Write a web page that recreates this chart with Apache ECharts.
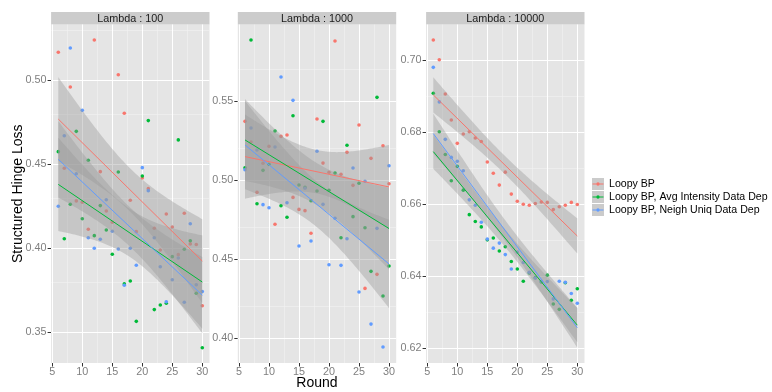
<!DOCTYPE html>
<html>
<head>
<meta charset="utf-8">
<script src="https://cdn.jsdelivr.net/npm/echarts@6/dist/echarts.min.js"></script>
<style>
  html, body { margin: 0; padding: 0; background: #fff; }
  #chart { width: 772px; height: 392px; }
</style>
</head>
<body>
<div id="chart"></div>
<script>
// Rounds shared by every facet and method
const rounds = [6, 7, 8, 9, 10, 11, 12, 13, 14, 15, 16, 17, 18, 19, 20, 21, 22, 23, 24, 25, 26, 27, 28, 29, 30];

// Facet labels and method names
const facetLabels = ['Lambda : 100', 'Lambda : 1000', 'Lambda : 10000'];
const methodNames = ['Loopy BP', 'Loopy BP, Avg Intensity Data Dep', 'Loopy BP, Neigh Uniq Data Dep'];
const methodColors = ['#F8766D', '#00BA38', '#619CFF'];

// Structured hinge loss, Lambda = 100
const loopy100 = [0.5167, 0.4476, 0.4960, 0.4282, 0.4274, 0.4113, 0.5240, 0.4456, 0.4222, 0.4155, 0.5033, 0.4804, 0.4286, 0.4099, 0.4418, 0.4355, 0.4119, 0.3990, 0.4204, 0.4127, 0.3962, 0.4208, 0.4026, 0.4022, 0.3658];
const avgInt100 = [0.4575, 0.4057, 0.4262, 0.4696, 0.4176, 0.4524, 0.4075, 0.4254, 0.4109, 0.3964, 0.4454, 0.3788, 0.3805, 0.3565, 0.4430, 0.4760, 0.3635, 0.3662, 0.3673, 0.3950, 0.4645, 0.3994, 0.4045, 0.3732, 0.3408];
const neighUniq100 = [0.4250, 0.4670, 0.5192, 0.4444, 0.4821, 0.4063, 0.4000, 0.4054, 0.4289, 0.4101, 0.3996, 0.3780, 0.4000, 0.3899, 0.4480, 0.4343, 0.4063, 0.3890, 0.3682, 0.3813, 0.3942, 0.3679, 0.4146, 0.3783, 0.3742];

// Structured hinge loss, Lambda = 1000
const loopy1000 = [0.5373, 0.5242, 0.4924, 0.5108, 0.5215, 0.4722, 0.5278, 0.5287, 0.4892, 0.4816, 0.4808, 0.4665, 0.5388, 0.5109, 0.5051, 0.5882, 0.5038, 0.5177, 0.4968, 0.5350, 0.4316, 0.5139, 0.4405, 0.5219, 0.4978];
const avgInt1000 = [0.5080, 0.5888, 0.4852, 0.5063, 0.5101, 0.5312, 0.4839, 0.4766, 0.5409, 0.4970, 0.4956, 0.4871, 0.4932, 0.5373, 0.4937, 0.5046, 0.4637, 0.5222, 0.4770, 0.4981, 0.4700, 0.4424, 0.5525, 0.4268, 0.4458];
const neighUniq1000 = [0.5067, 0.5331, 0.5192, 0.4846, 0.4826, 0.5211, 0.5654, 0.4858, 0.5506, 0.4584, 0.4950, 0.4616, 0.5184, 0.4848, 0.4466, 0.4760, 0.4462, 0.4630, 0.5078, 0.4293, 0.4994, 0.4090, 0.4696, 0.3945, 0.5092];

// Structured hinge loss, Lambda = 10000
const loopy10000 = [0.7055, 0.7000, 0.6905, 0.6833, 0.6768, 0.6794, 0.6800, 0.6783, 0.6773, 0.6716, 0.6685, 0.6652, 0.6688, 0.6627, 0.6607, 0.6599, 0.6596, 0.6601, 0.6605, 0.6604, 0.6584, 0.6592, 0.6596, 0.6604, 0.6598];
const avgInt10000 = [0.6907, 0.6800, 0.6737, 0.6664, 0.6704, 0.6638, 0.6570, 0.6551, 0.6536, 0.6500, 0.6505, 0.6469, 0.6481, 0.6440, 0.6419, 0.6385, 0.6408, 0.6395, 0.6383, 0.6402, 0.6322, 0.6307, 0.6381, 0.6332, 0.6364];
const neighUniq10000 = [0.6979, 0.6883, 0.6779, 0.6729, 0.6718, 0.6692, 0.6611, 0.6596, 0.6549, 0.6502, 0.6477, 0.6491, 0.6459, 0.6419, 0.6466, 0.6437, 0.6410, 0.6394, 0.6385, 0.6384, 0.6336, 0.6385, 0.6382, 0.6351, 0.6324];

// Axis tick labels
const xTicks = [5, 10, 15, 20, 25, 30];
const yTicks100 = [0.35, 0.40, 0.45, 0.50];
const yTicks1000 = [0.40, 0.45, 0.50, 0.55];
const yTicks10000 = [0.62, 0.64, 0.66, 0.68, 0.70];

// Visible y limits of each facet
const yLimits100 = [0.3317, 0.5332];
const yLimits1000 = [0.3844, 0.5986];
const yLimits10000 = [0.6158, 0.7098];

const facetData = [
  [loopy100, avgInt100, neighUniq100],
  [loopy1000, avgInt1000, neighUniq1000],
  [loopy10000, avgInt10000, neighUniq10000]
];
const facetYTicks = [yTicks100, yTicks1000, yTicks10000];
const facetYLimits = [yLimits100, yLimits1000, yLimits10000];

// Panel geometry (pixels)
const panelLefts = [51.1, 237.8, 426.1];
const panelWidth = 158.4;
const panelTop = 24.5;
const panelHeight = 338.5;
const stripTop = 12;
const stripHeight = 12.5;
const FONT = '"Liberation Sans", Arial, Helvetica, sans-serif';

// Ordinary least squares with a 95% confidence band (t, df = n - 2)
function linearFit(xs, ys) {
  const n = xs.length;
  const xbar = xs.reduce((a, b) => a + b, 0) / n;
  const ybar = ys.reduce((a, b) => a + b, 0) / n;
  let sxx = 0, sxy = 0;
  for (let i = 0; i < n; i++) {
    sxx += (xs[i] - xbar) * (xs[i] - xbar);
    sxy += (xs[i] - xbar) * (ys[i] - ybar);
  }
  const slope = sxy / sxx;
  const icpt = ybar - slope * xbar;
  let sse = 0;
  for (let i = 0; i < n; i++) {
    const r = ys[i] - (icpt + slope * xs[i]);
    sse += r * r;
  }
  const s = Math.sqrt(sse / (n - 2));
  const t = 2.0687; // qt(0.975, 23)
  const predict = x => icpt + slope * x;
  const halfWidth = x => t * s * Math.sqrt(1 / n + (x - xbar) * (x - xbar) / sxx);
  return { predict, halfWidth };
}

const xLo = rounds[0], xHi = rounds[rounds.length - 1];
const bandXs = [];
for (let k = 0; k <= 80; k++) bandXs.push(xLo + (xHi - xLo) * k / 80);

const fits = facetData.map(group => group.map(vals => linearFit(rounds, vals)));

const xPad = (xHi - xLo) * 0.05;
const xRange = [xLo - xPad, xHi + xPad];

function minorBetween(ticks, range) {
  const step = ticks[1] - ticks[0];
  const out = [];
  for (let v = ticks[0] - step / 2; v <= range[1]; v += step) {
    if (v >= range[0]) out.push(v);
  }
  return out;
}

const grids = [], xAxes = [], yAxes = [];
const scatterSeries = [], smoothSeries = [], gridSeries = [], graphics = [];

for (let p = 0; p < 3; p++) {
  const yr = facetYLimits[p];
  grids.push({
    left: panelLefts[p], top: panelTop, width: panelWidth, height: panelHeight,
    outerBoundsMode: 'none',
    show: true, backgroundColor: '#E5E5E5', borderWidth: 0
  });
  xAxes.push({
    type: 'value', gridIndex: p, min: xRange[0], max: xRange[1],
    axisLine: { show: false },
    splitLine: { show: false },
    axisTick: { show: true, customValues: xTicks, length: 3.5, lineStyle: { color: '#333333', width: 1 } },
    axisLabel: { customValues: xTicks, margin: 4, color: '#7F7F7F', fontSize: 10.8, fontFamily: FONT },
    name: p === 1 ? 'Round' : '',
    nameLocation: 'middle', nameGap: 13, nameMoveOverlap: false,
    nameTextStyle: { fontSize: 14, color: '#000', fontFamily: FONT }
  });
  yAxes.push({
    type: 'value', gridIndex: p, min: yr[0], max: yr[1],
    axisLine: { show: false },
    splitLine: { show: false },
    axisTick: { show: true, customValues: facetYTicks[p], length: 3.5, lineStyle: { color: '#333333', width: 1 } },
    axisLabel: { customValues: facetYTicks[p], margin: 4.5, color: '#7F7F7F', fontSize: 10.8, fontFamily: FONT,
      formatter: v => v.toFixed(2) },
    name: p === 0 ? 'Structured Hinge Loss' : '',
    nameLocation: 'middle', nameGap: 26, nameRotate: 90, nameMoveOverlap: false,
    nameTextStyle: { fontSize: 14, color: '#000', fontFamily: FONT }
  });

  // panel grid lines, kept beneath the points
  const minorX = minorBetween(xTicks, xRange);
  const minorY = minorBetween(facetYTicks[p], yr);
  const minorStyle = { color: '#F2F2F2', width: 0.6, type: 'solid' };
  const majorStyle = { color: '#FFFFFF', width: 1, type: 'solid' };
  const lines = [];
  minorX.forEach(v => lines.push({ xAxis: v, lineStyle: minorStyle }));
  minorY.forEach(v => lines.push({ yAxis: v, lineStyle: minorStyle }));
  xTicks.forEach(v => lines.push({ xAxis: v, lineStyle: majorStyle }));
  facetYTicks[p].forEach(v => lines.push({ yAxis: v, lineStyle: majorStyle }));
  gridSeries.push({
    type: 'line', xAxisIndex: p, yAxisIndex: p, data: [], silent: true, z: 1,
    markLine: { silent: true, z: 1, symbol: ['none', 'none'], label: { show: false }, animation: false, data: lines }
  });

  for (let g = 0; g < 3; g++) {
    const vals = facetData[p][g];
    scatterSeries.push({
      type: 'scatter', name: methodNames[g], xAxisIndex: p, yAxisIndex: p,
      data: rounds.map((r, i) => [r, vals[i]]),
      symbolSize: 3.6, itemStyle: { color: methodColors[g], opacity: 1 }, z: 2
    });
    const fit = fits[p][g];
    const band = bandXs.map(x => [x, fit.predict(x) - fit.halfWidth(x), fit.predict(x) + fit.halfWidth(x)]);
    smoothSeries.push({
      type: 'custom', xAxisIndex: p, yAxisIndex: p, silent: true, z: 3,
      data: band,
      encode: { x: 0, y: [1, 2] },
      renderItem: (params, api) => {
        if (params.dataIndex !== 0) return null;
        const upper = band.map(d => api.coord([d[0], d[2]]));
        const lower = band.map(d => api.coord([d[0], d[1]])).reverse();
        return { type: 'polygon', shape: { points: upper.concat(lower) },
          style: { fill: 'rgba(153,153,153,0.4)', stroke: null } };
      }
    });
    smoothSeries.push({
      type: 'line', xAxisIndex: p, yAxisIndex: p, silent: true, z: 3,
      data: [[xLo, fit.predict(xLo)], [xHi, fit.predict(xHi)]],
      showSymbol: false, symbol: 'none',
      lineStyle: { color: methodColors[g], width: 1 }
    });
  }

  // facet strip
  graphics.push({ type: 'rect', left: panelLefts[p], top: stripTop, z: 0,
    shape: { width: panelWidth, height: stripHeight }, style: { fill: '#CCCCCC' } });
  graphics.push({ type: 'text', x: panelLefts[p] + panelWidth / 2, y: stripTop + stripHeight / 2 + 0.5, z: 1,
    style: { text: facetLabels[p], fill: '#1A1A1A', fontSize: 10.8, fontFamily: FONT,
      align: 'center', verticalAlign: 'middle' } });
}

// Legend: one block per method so each key row sits on a fixed line
const keyIcon = 'path://M0,0h0.01v0.01h-0.01z M12,12h-0.01v-0.01h0.01z M0.5,5.6h11v0.8h-11z M7.7,6a1.7,1.7 0 1,1 -3.4,0a1.7,1.7 0 1,1 3.4,0z';
const legendLeft = 592;
const legendTops = [178, 191, 204];
const legends = methodNames.map((name, g) => ({
  data: [{ name: name, icon: keyIcon }],
  orient: 'vertical', left: legendLeft, top: legendTops[g], padding: 0,
  itemWidth: 12, itemHeight: 12, selectedMode: false,
  textStyle: { fontSize: 10.6, color: '#000', fontFamily: FONT }
}));
legendTops.forEach(t => graphics.push({ type: 'rect', left: legendLeft, top: t, z: 0,
  shape: { width: 12, height: 12 }, style: { fill: '#CBCBCB' } }));

const chart = echarts.init(document.getElementById('chart'), null, { renderer: 'canvas' });
chart.setOption({
  animation: false,
  backgroundColor: '#FFFFFF',
  textStyle: { fontFamily: FONT },
  grid: grids,
  xAxis: xAxes,
  yAxis: yAxes,
  legend: legends,
  graphic: graphics,
  series: gridSeries.concat(scatterSeries, smoothSeries)
});
</script>
</body>
</html>
